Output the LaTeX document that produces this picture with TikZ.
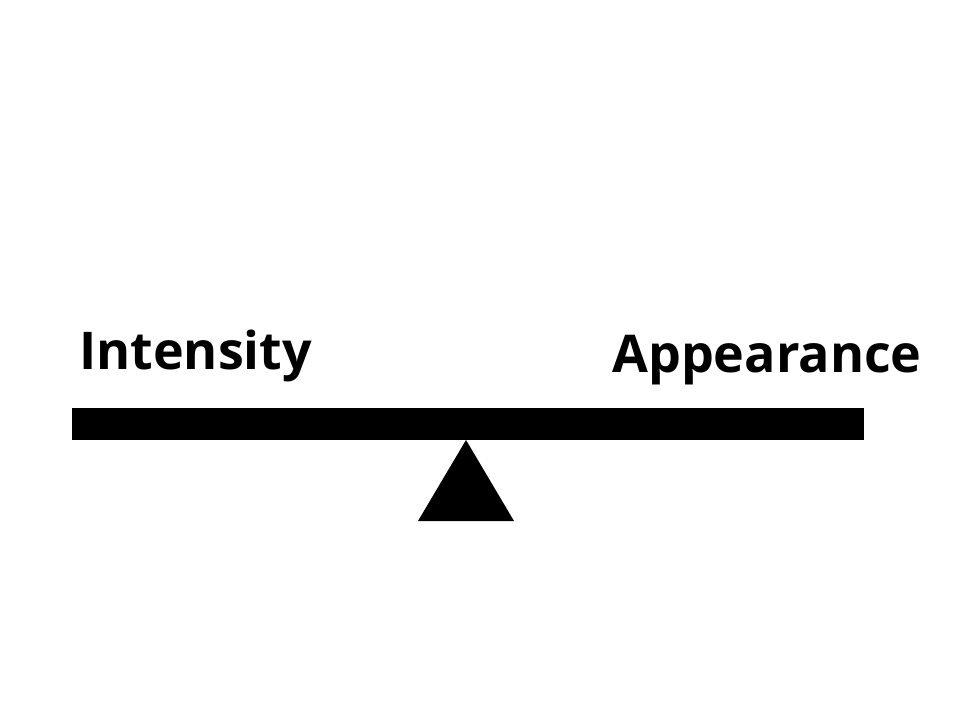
\documentclass[tikz,border=0pt]{standalone}
\usepackage{fontspec}
\setmainfont{Open Sans}
\begin{document}
\begin{tikzpicture}[x=1pt,y=-1pt,
  lbl/.style={inner sep=0pt, anchor=base west, font=\fontsize{52}{58}\selectfont\bfseries},
  solid black/.style={fill=black, draw=none}]
\useasboundingbox (0,0) rectangle (960,720);
\fill[white] (0,0) rectangle (960,720);
\node[solid black, rectangle, minimum width=792pt, minimum height=32pt, inner sep=0pt] (beam) at (468,424) {};
\coordinate (apex) at (466,440);
\coordinate (bl) at (418,521);
\coordinate (br) at (514,521);
\fill[black] (apex) -- (br) -- (bl) -- cycle;
\node[lbl] (left) at (79,369) {Intensity};
\node[lbl] (right) at (612,372) {Appearance};
\end{tikzpicture}
\end{document}
